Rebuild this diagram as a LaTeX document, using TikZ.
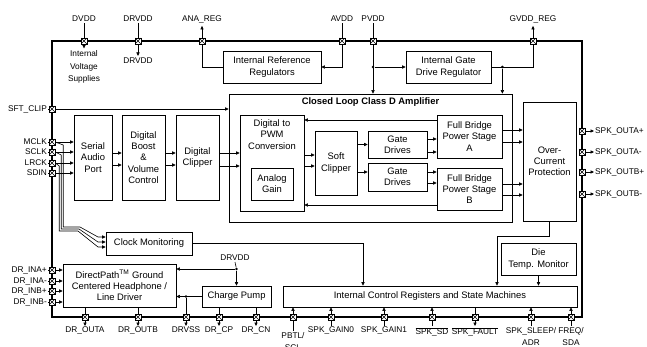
\documentclass[tikz,border=0pt]{standalone}
\usepackage{fontspec}
\setmainfont{Liberation Sans}
\usetikzlibrary{arrows.meta}

\tikzset{
	blk/.style={draw, line width=0.7pt, align=center, inner sep=1pt,
		font=\fontsize{9.4}{11.2}\selectfont},
	lbl/.style={inner sep=1pt, align=center, font=\fontsize{8.3}{12.5}\selectfont},
	padx/.style={draw, fill=white, line width=0.5pt, minimum size=6pt, inner sep=0pt,
		path picture={\draw[line width=0.4pt]
			(path picture bounding box.south west) -- (path picture bounding box.north east)
			(path picture bounding box.north west) -- (path picture bounding box.south east);}},
	wire/.style={line width=0.6pt},
	sig/.style={wire, -{Triangle[length=3.5pt,width=3.2pt]}},
	jdot/.style={circle, fill, inner sep=0pt, minimum size=2.8pt},
}

\begin{document}
\begin{tikzpicture}[x=1pt, y=-1pt]
	\useasboundingbox (0,0) rectangle (647,347);

	% outer border
	\draw [line width=1.6pt] (52,41) rectangle (582,317);

	% top blocks
	\node [blk, minimum width=98pt, minimum height=32pt] (irr)  at (272,67)  {Internal Reference\\Regulators};
	\node [blk, minimum width=85pt, minimum height=32pt] (igdr) at (448.5,67) {Internal Gate\\Drive Regulator};

	% audio path
	\node [blk, minimum width=283pt, minimum height=128pt,
		label={[anchor=north, yshift=-3pt, inner sep=1pt, font=\fontsize{9.4}{11}\selectfont\bfseries]north:Closed Loop Class D Amplifier}]
		(cl) at (370.5,158) {};
	\node [blk, minimum width=38pt, minimum height=85pt] (sap)   at (93,157.5)    {Serial\\Audio\\Port};
	\node [blk, minimum width=43pt, minimum height=85pt] (dbv)   at (143.5,157.5) {Digital\\Boost\\\&\\Volume\\Control};
	\node [blk, minimum width=43pt, minimum height=85pt] (dclip) at (197.5,157.5) {Digital\\Clipper};
	\node [blk, minimum width=64pt, minimum height=96pt,
		label={[anchor=north, yshift=-4pt, inner sep=1pt, align=center, font=\fontsize{9.4}{11.2}\selectfont]north:Digital to\\PWM\\Conversion}]
		(pwm) at (272,163) {};
	\node [blk, minimum width=42pt, minimum height=32pt] (again) at (272,184)   {Analog\\Gain};
	\node [blk, minimum width=42pt, minimum height=64pt] (sclip) at (336,163)   {Soft\\Clipper};
	\node [blk, minimum width=59pt, minimum height=27pt] (gd1)   at (397.5,144.5) {Gate\\Drives};
	\node [blk, minimum width=59pt, minimum height=28pt] (gd2)   at (397.5,177) {Gate\\Drives};
	\node [blk, minimum width=65pt, minimum height=43pt] (fba)   at (469.5,136.5) {Full Bridge\\Power Stage\\A};
	\node [blk, minimum width=65pt, minimum height=42pt] (fbb)   at (469.5,189) {Full Bridge\\Power Stage\\B};
	\node [blk, minimum width=53pt, minimum height=119pt] (ocp)  at (549.5,161.5) {Over-\\Current\\Protection};

	% lower blocks
	\node [blk, minimum width=86pt, minimum height=23pt]  (clk) at (149,243.5) {Clock Monitoring};
	\node [blk, minimum width=113pt, minimum height=43pt] (dp)  at (119.5,285.5) {DirectPath\textsuperscript{TM} Ground\\Centered Headphone /\\Line Driver};
	\node [blk, minimum width=69pt, minimum height=21pt]  (cp)  at (236.5,296.5) {Charge Pump};
	\node [blk, minimum width=294pt, minimum height=21pt] (icr) at (430,296.5) {Internal Control Registers and State Machines};
	\node [blk, minimum width=75pt, minimum height=32pt]  (dtm) at (538.5,259) {Die\\Temp. Monitor};

	% pins on top
	\foreach \n/\x/\t in {dvdd/84/DVDD, drvdd/138/DRVDD, anareg/202/ANA\_REG, avdd/342/AVDD, pvdd/373/PVDD, gvdd/533/GVDD\_REG} {
		\node [padx] (\n) at (\x,41) {};
		\node [lbl] (t\n) at (\x,19) {\t};
	}
	\node [lbl] (tivs)  at (84,67)  {\fontsize{8.3}{10}\selectfont Internal\\Voltage\\Supplies};
	\node [lbl] (tdrv2) at (138,61) {DRVDD};

	% pins on the left
	\foreach \n/\y/\t in {sftclip/109/SFT\_CLIP, mclk/142/MCLK, sclk/152/SCLK, lrck/163/LRCK, sdin/173/SDIN,
		inap/270/DR\_INA+, inam/281/DR\_INA-, inbp/291/DR\_INB+, inbm/302/DR\_INB-} {
		\node [padx] (\n) at (52,\y) {};
		\node [lbl, anchor=east] (t\n) at (48,\y) {\t};
		\draw [wire] (t\n.east) -- (\n.west);
	}

	% pins on the right
	\foreach \n/\y/\t in {outap/131/SPK\_OUTA+, outam/152/SPK\_OUTA-, outbp/172/SPK\_OUTB+, outbm/194/SPK\_OUTB-} {
		\node [padx] (\n) at (582,\y) {};
		\node [lbl, anchor=west] (t\n) at (594,\y) {\t};
		\draw [sig] (\n.east) -- (t\n.west);
	}

	% pins at the bottom
	\foreach \n/\x/\t in {droa/85/DR\_OUTA, drob/138/DR\_OUTB, drvss/186/DRVSS, drcp/219/DR\_CP, drcn/256/DR\_CN,
		gain0/331/SPK\_GAIN0, gain1/384/SPK\_GAIN1, sd/432/{$\overline{\mbox{SPK\_SD}}$},
		fault/475/{$\overline{\mbox{SPK\_FAULT}}$}, sleep/531/{SPK\_SLEEP/\\ADR}, freq/571/{FREQ/\\SDA}} {
		\node [padx] (\n) at (\x,317) {};
		\node [lbl, anchor=north] (t\n) at (\x,326) {\t};
	}
	\node [padx] (pbtl) at (293,317) {};
	\node [lbl, anchor=north] (tpbtl) at (293,331) {PBTL/\\SCL};

	% supplies
	\draw [wire] (tdvdd.south) -- (dvdd.north);
	\draw [sig, shorten >=1pt] (dvdd.south) -- (tivs.north);
	\draw [wire] (tdrvdd.south) -- (drvdd.north);
	\draw [sig, shorten >=1pt] (drvdd.south) -- (tdrv2.north);
	\draw [wire] (irr.west) -| (anareg.south);
	\draw [sig, shorten >=2pt] (anareg.north) -- (tanareg.south);
	\draw [wire] (tavdd.south) -- (avdd.north);
	\draw [sig] (avdd.south) |- (irr.east);
	\draw [wire] (tpvdd.south) -- (pvdd.north);
	\draw [sig] (pvdd.south) -- (pvdd.south |- cl.north);
	\node [jdot] (pvdot) at (pvdd.south |- igdr.west) {};
	\draw [sig] (pvdot) -- (igdr.west);
	\node [jdot] (gvdot) at (fba.east |- igdr.east) {};
	\draw [wire] (igdr.east) -| (gvdd.south);
	\draw [sig] (gvdot) -- (gvdot |- cl.north);
	\draw [sig, shorten >=2pt] (gvdd.north) -- (tgvdd.south);

	% audio path
	\draw [sig] (sftclip.east) -- (cl.west |- 0,109);
	\foreach \p in {mclk, sclk, lrck, sdin}
		\draw [sig] (\p.east) -- (sap.west |- \p.east);
	\foreach \y in {153,165} {
		\draw [sig] (sap.east |- 0,\y) -- (dbv.west |- 0,\y);
		\draw [sig] (dbv.east |- 0,\y) -- (dclip.west |- 0,\y);
	}
	\draw [sig] (dclip.east |- 0,153) -- (pwm.west |- 0,153);
	\draw [sig] (dclip.east |- 0,166) -- (pwm.west |- 0,166);
	\draw [sig] (pwm.east |- 0,155) -- (sclip.west |- 0,155);
	\draw [sig] (pwm.east |- 0,166) -- (sclip.west |- 0,166);
	\draw [sig] (sclip.east |- gd1.west) -- (gd1.west);
	\draw [sig] (sclip.east |- 0,172) -- (gd2.west |- 0,172);
	\draw [sig] (gd1.east |- 0,139) -- (fba.west |- 0,139);
	\draw [sig] (gd1.east |- 0,152) -- (fba.west |- 0,152);
	\draw [sig] (gd2.east |- 0,172) -- (fbb.west |- 0,172);
	\draw [sig] (gd2.east |- 0,183) -- (fbb.west |- 0,183);
	\draw [sig] (fba.east |- 0,130) -- (ocp.west |- 0,130);
	\draw [sig] (fba.east |- 0,142) -- (ocp.west |- 0,142);
	\draw [sig] (fbb.east |- 0,184) -- (ocp.west |- 0,184);
	\draw [sig] (fbb.east |- 0,195) -- (ocp.west |- 0,195);
	% feedback
	\draw [sig] (fba.west |- 0,120) -- (pwm.east |- 0,120);
	\draw [sig] (fbb.west |- 0,205) -- (pwm.east |- 0,205);

	% clock monitoring
	\foreach \p/\i in {mclk/0, sclk/1, lrck/2}
		\draw [sig] (\p.east) -- ++({8-2*\i},3) |- ({80-\i},{227+2*\i}) -- (98,{237+5*\i}) -- (clk.west |- 0,{237+5*\i});
	\draw [sig] (clk.east) -| (363,0 |- icr.north);
	\draw [sig] (ocp.south) |- (497,236) -- (497,0 |- icr.north);
	\draw [sig] (dtm.south) -- (dtm.south |- icr.north);

	% headphone driver
	\foreach \p in {inap, inam, inbp, inbm}
		\draw [sig] (\p.east) -- (dp.west |- \p.east);
	\node [lbl] (tdrv3) at (235,258) {DRVDD};
	\node [jdot] (drvdot) at (cp.north |- 0,269) {};
	\draw [wire] (tdrv3.south) -- (drvdot);
	\draw [sig] (drvdot) -- (dp.east |- drvdot);
	\draw [sig] (drvdot) -- (cp.north);
	\node [jdot] (vssdot) at (drvss.north |- cp.west) {};
	\draw [sig] (cp.west) -- (dp.east |- cp.west);
	\draw [wire] (drvss.north) -- (vssdot);

	% outputs at the bottom
	\foreach \p in {droa, drob}
		\draw [wire] (dp.south -| \p) -- (\p.north);
	\foreach \p in {drcp, drcn}
		\draw [wire] (cp.south -| \p) -- (\p.north);
	\draw [wire] (icr.south -| fault) -- (fault.north);
	\foreach \p in {droa, drob, drvss, drcp, drcn, fault}
		\draw [sig] (\p.south) -- (t\p.north);
	\foreach \p in {pbtl, gain0, gain1, sd, sleep, freq} {
		\draw [wire] (t\p.north) -- (\p.south);
		\draw [sig] (\p.north) -- (icr.south -| \p);
	}
\end{tikzpicture}
\end{document}
